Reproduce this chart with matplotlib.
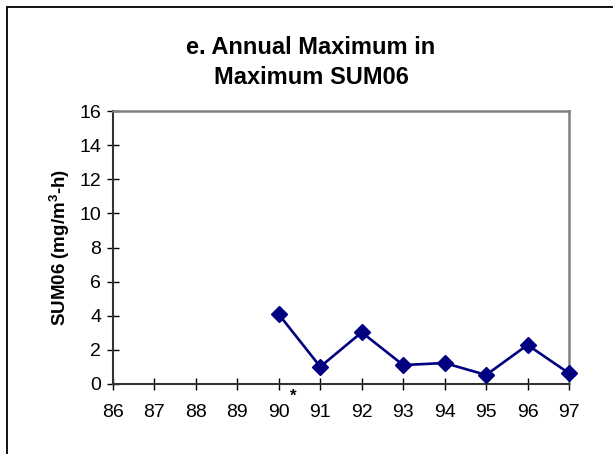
import matplotlib
matplotlib.use('Agg')
import matplotlib.pyplot as plt
from matplotlib.patches import Rectangle

# data
years = [90, 91, 92, 93, 94, 95, 96, 97]
sum06 = [4.08, 1.01, 3.03, 1.11, 1.23, 0.53, 2.29, 0.63]
year_ticks = list(range(86, 98))
y_ticks = list(range(0, 17, 2))
note_year = 90.35  # asterisk note below the axis

plt.rcParams['font.family'] = ['Liberation Sans', 'DejaVu Sans']
plt.rcParams['mathtext.fontset'] = 'custom'
plt.rcParams['mathtext.rm'] = 'Liberation Sans'
plt.rcParams['mathtext.bf'] = 'Liberation Sans:bold'

fig = plt.figure(figsize=(6.13, 4.54), dpi=100)
ax = fig.add_axes([113 / 613, 1 - 384 / 454, 456 / 613, 273 / 454])

# outer frame of the chart area (only left and top are visible)
fig.patches.append(Rectangle((7 / 613, -0.1), 1.2, 1 - 7 / 454 + 0.1,
                             transform=fig.transFigure, fill=False,
                             edgecolor='black', linewidth=1.3))

ax.plot(years, sum06, color='#000080', linewidth=1.9, marker='D',
        markersize=8.5, markerfacecolor='#000080', markeredgecolor='#000080',
        clip_on=False, zorder=5)

ax.set_xlim(86, 97)
ax.set_ylim(0, 16)
ax.set_xticks(year_ticks)
ax.set_yticks(y_ticks)
ax.tick_params(axis='both', direction='inout', length=8, width=1,
               labelsize=14, color='black')
ax.tick_params(axis='x', pad=10.5)
ax.tick_params(axis='y', pad=4.5)

for side in ['left', 'bottom']:
    ax.spines[side].set_color('#333333')
    ax.spines[side].set_linewidth(1.5)
for side in ['right', 'top']:
    ax.spines[side].set_color('#808080')
    ax.spines[side].set_linewidth(1.8)

ax.set_ylabel(r'SUM06 (mg/m$^{\mathbf{3}}$-h)', fontsize=13.5,
              fontweight='bold', labelpad=5)

ax.annotate('*', xy=(note_year, 0), xytext=(0, -9),
            textcoords='offset points', ha='center', va='center',
            fontsize=12, fontweight='bold')

fig.text(311 / 613, 1 - 48 / 454, 'e. Annual Maximum in', ha='center',
         va='center', fontsize=17, fontweight='bold')
fig.text(311 / 613, 1 - 77 / 454, 'Maximum SUM06', ha='center',
         va='center', fontsize=17, fontweight='bold')

fig.savefig('out.png', dpi=100)
